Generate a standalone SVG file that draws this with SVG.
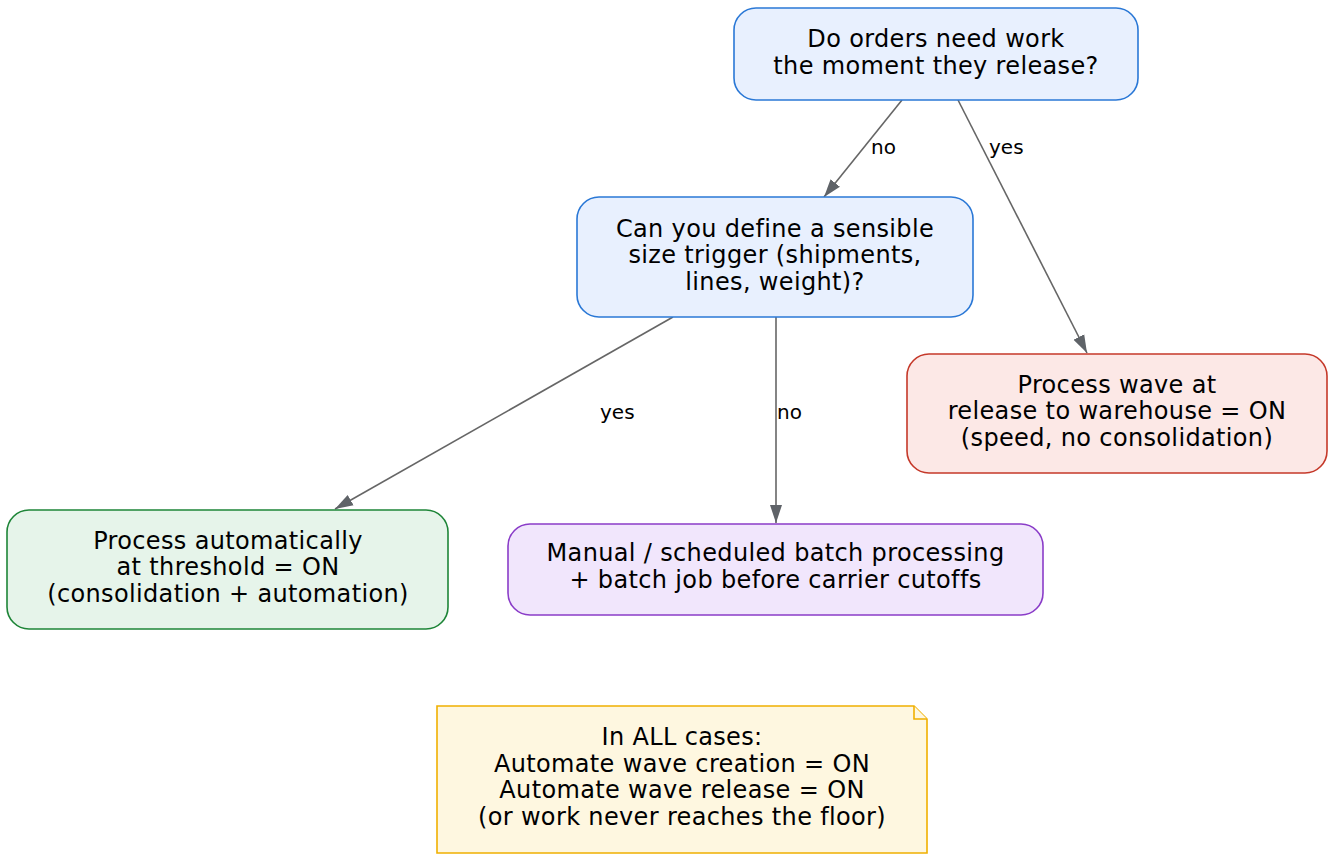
<svg xmlns="http://www.w3.org/2000/svg" width="1335" height="860" viewBox="0 0 1335 860">
<style>
text{font-family:"DejaVu Sans",Verdana,sans-serif;fill:#000}
.nt{font-size:24px;letter-spacing:0.35px;text-anchor:middle}
.el{font-size:20px}
.node{stroke-width:1.6}
.blue{fill:#e8f0fe;stroke:#2a78d6}
.red{fill:#fce8e6;stroke:#c5392a}
.green{fill:#e6f4ea;stroke:#1e8538}
.purple{fill:#f1e6fc;stroke:#8a3cc8}
.note{fill:#fef7e0;stroke:#f0b000;stroke-width:1.6}
.edge{fill:none;stroke:#666;stroke-width:1.6}
</style>
<defs>
<marker id="ah" markerUnits="userSpaceOnUse" markerWidth="20" markerHeight="16" viewBox="0 0 20 16" refX="18" refY="8" orient="auto">
<path d="M0,2 L18,8 L0,14 Z" fill="#5f6368"/>
</marker>
</defs>
<rect width="1335" height="860" fill="#fff"/>
<g id="edges">
<path class="edge" d="M902,100 L824,197" marker-end="url(#ah)"/>
<path class="edge" d="M958,100 L1087,353" marker-end="url(#ah)"/>
<path class="edge" d="M673,317 L335,509" marker-end="url(#ah)"/>
<path class="edge" d="M776,317 L776,523" marker-end="url(#ah)"/>
<text class="el" x="871" y="154">no</text>
<text class="el" x="989" y="154">yes</text>
<text class="el" x="600" y="419">yes</text>
<text class="el" x="777" y="419">no</text>
</g>
<g id="q1">
<rect class="node blue" x="734" y="8" width="404" height="92" rx="22"/>
<text class="nt" x="936" y="47">Do orders need work</text>
<text class="nt" x="936" y="74">the moment they release?</text>
</g>
<g id="q2">
<rect class="node blue" x="577" y="197" width="396" height="120" rx="22"/>
<text class="nt" x="775" y="237">Can you define a sensible</text>
<text class="nt" x="775" y="263">size trigger (shipments,</text>
<text class="nt" x="775" y="290">lines, weight)?</text>
</g>
<g id="release">
<rect class="node red" x="907" y="354" width="420" height="119" rx="22"/>
<text class="nt" x="1117" y="393">Process wave at</text>
<text class="nt" x="1117" y="419">release to warehouse = ON</text>
<text class="nt" x="1117" y="446">(speed, no consolidation)</text>
</g>
<g id="threshold">
<rect class="node green" x="7" y="510" width="441" height="119" rx="22"/>
<text class="nt" x="228" y="549">Process automatically</text>
<text class="nt" x="228" y="575">at threshold = ON</text>
<text class="nt" x="228" y="602">(consolidation + automation)</text>
</g>
<g id="manual">
<rect class="node purple" x="508" y="524" width="535" height="91" rx="22"/>
<text class="nt" x="775.5" y="561">Manual / scheduled batch processing</text>
<text class="nt" x="775.5" y="588">+ batch job before carrier cutoffs</text>
</g>
<g id="note">
<path class="note" d="M437,706 H914 L927,719 V853 H437 Z"/>
<path class="note" d="M914,706 V719 H927"/>
<text class="nt" x="682" y="745">In ALL cases:</text>
<text class="nt" x="682" y="772">Automate wave creation = ON</text>
<text class="nt" x="682" y="798">Automate wave release = ON</text>
<text class="nt" x="682" y="825">(or work never reaches the floor)</text>
</g>
</svg>
